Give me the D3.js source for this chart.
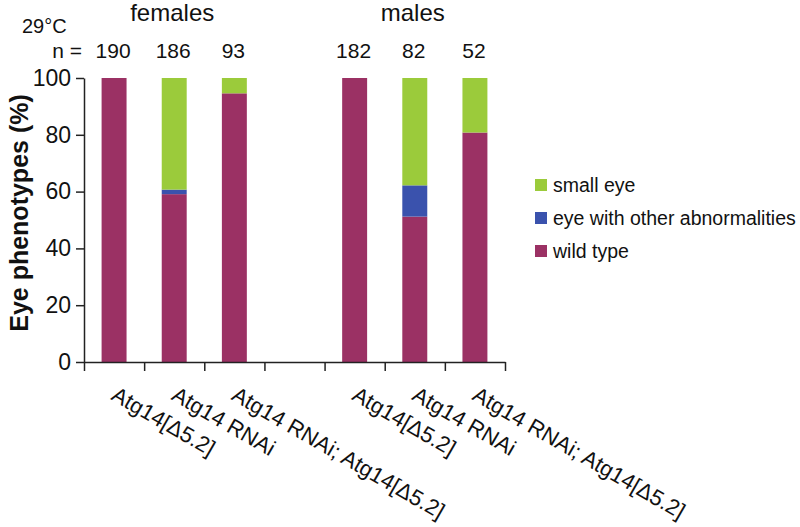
<!DOCTYPE html>
<html>
<head>
<meta charset="utf-8">
<script src="https://cdn.jsdelivr.net/npm/d3@7"></script>
<style>
  html, body { margin: 0; padding: 0; background: #fff; }
  svg { display: block; font-family: "Liberation Sans", Arial, sans-serif; }
</style>
</head>
<body>
<svg id="chart" width="800" height="527"></svg>
<script>
// ---- data ----
const categories = ["Atg14[Δ5.2]", "Atg14 RNAi", "Atg14 RNAi; Atg14[Δ5.2]", "",
                    "Atg14[Δ5.2]", "Atg14 RNAi", "Atg14 RNAi; Atg14[Δ5.2]"];
const groups = ["females", "males"];
const groupCenterIndex = [1, 5];
const nValues = [190, 186, 93, null, 182, 82, 52];
const wildType = [100, 59.1, 94.6, null, 100, 51.2, 80.8];
const otherAbnormal = [0, 1.6, 0, null, 0, 11.0, 0];
const smallEye = [0, 39.3, 5.4, null, 0, 37.8, 19.2];
const seriesNames = ["wild type", "eye with other abnormalities", "small eye"];
const seriesColors = ["#9b3164", "#3a52ad", "#9bcb3b"];
const yTicks = [0, 20, 40, 60, 80, 100];
const temperature = "29°C";

// ---- layout ----
const svg = d3.select("#chart");
const x0 = 84, x1 = 505, yTop = 78, yBot = 362;

const x = d3.scaleBand().domain(d3.range(categories.length))
  .range([x0, x1]).paddingInner(0.585).paddingOuter(0.2925);
const xEdge = d3.scaleLinear().domain([0, categories.length]).range([x0, x1]);
const y = d3.scaleLinear().domain([0, 100]).range([yBot, yTop]);
const color = d3.scaleOrdinal().domain(seriesNames).range(seriesColors);

const rows = categories.map((c, i) => ({
  i, "wild type": wildType[i], "eye with other abnormalities": otherAbnormal[i], "small eye": smallEye[i]
})).filter(d => d["wild type"] != null);

const stacked = d3.stack().keys(seriesNames)(rows);

svg.append("g").selectAll("g").data(stacked).join("g")
  .attr("fill", d => color(d.key))
  .selectAll("rect").data(d => d).join("rect")
  .attr("x", d => x(d.data.i))
  .attr("width", x.bandwidth())
  .attr("y", d => y(d[1]))
  .attr("height", d => y(d[0]) - y(d[1]));

// y axis
const yAxis = svg.append("g").attr("transform", `translate(${x0},0)`)
  .call(d3.axisLeft(y).tickValues(yTicks).tickSize(8).tickPadding(5).tickSizeOuter(0));
yAxis.select(".domain").attr("stroke", "#222").attr("stroke-width", 1.5);
yAxis.selectAll(".tick line").attr("stroke", "#222").attr("stroke-width", 1.5);
yAxis.selectAll(".tick text").attr("font-size", 23).attr("fill", "#111")
  .attr("font-family", "Liberation Sans, Arial, sans-serif");

// x axis
const xAxis = svg.append("g").attr("transform", `translate(0,${yBot})`)
  .call(d3.axisBottom(xEdge).tickValues(d3.range(categories.length + 1)).tickSize(9).tickFormat("").tickSizeOuter(0));
xAxis.select(".domain").attr("stroke", "#222").attr("stroke-width", 1.5);
xAxis.selectAll(".tick line").attr("stroke", "#222").attr("stroke-width", 1.5);

// x labels rotated
svg.append("g").selectAll("text").data(categories.map((c, i) => ({ c, i })).filter(d => d.c))
  .join("text")
  .attr("transform", d => `translate(${x(d.i) + x.bandwidth() / 2 - 4},399) rotate(30)`)
  .attr("font-size", 22).attr("fill", "#111")
  .text(d => d.c);

// y title
svg.append("text")
  .attr("transform", `translate(28,213) rotate(-90)`)
  .attr("text-anchor", "middle")
  .attr("font-size", 25).attr("font-weight", "bold").attr("fill", "#111")
  .text("Eye phenotypes (%)");

// n labels
svg.append("text").attr("x", 82).attr("y", 58).attr("text-anchor", "end")
  .attr("font-size", 21).attr("fill", "#111").text("n =");
svg.append("g").selectAll("text").data(nValues.map((n, i) => ({ n, i })).filter(d => d.n != null))
  .join("text")
  .attr("x", d => x(d.i) + x.bandwidth() / 2 - 1)
  .attr("y", 58).attr("text-anchor", "middle")
  .attr("font-size", 21).attr("fill", "#111")
  .text(d => d.n);

// group titles
svg.append("g").selectAll("text").data(groups).join("text")
  .attr("x", (g, k) => x(groupCenterIndex[k]) + x.bandwidth() / 2 - 2)
  .attr("y", 21).attr("text-anchor", "middle")
  .attr("font-size", 24).attr("fill", "#111")
  .text(d => d);

svg.append("text").attr("x", 22).attr("y", 33)
  .attr("font-size", 20).attr("fill", "#111").text(temperature);

// legend
const legendOrder = ["small eye", "eye with other abnormalities", "wild type"];
const lg = svg.append("g").selectAll("g").data(legendOrder).join("g")
  .attr("transform", (d, k) => `translate(535,${185 + k * 33})`);
lg.append("rect").attr("x", 0).attr("y", -6).attr("width", 12).attr("height", 12)
  .attr("fill", d => color(d));
lg.append("text").attr("x", 18).attr("y", 7)
  .attr("font-size", 19.5).attr("fill", "#111").text(d => d);
</script>
</body>
</html>
